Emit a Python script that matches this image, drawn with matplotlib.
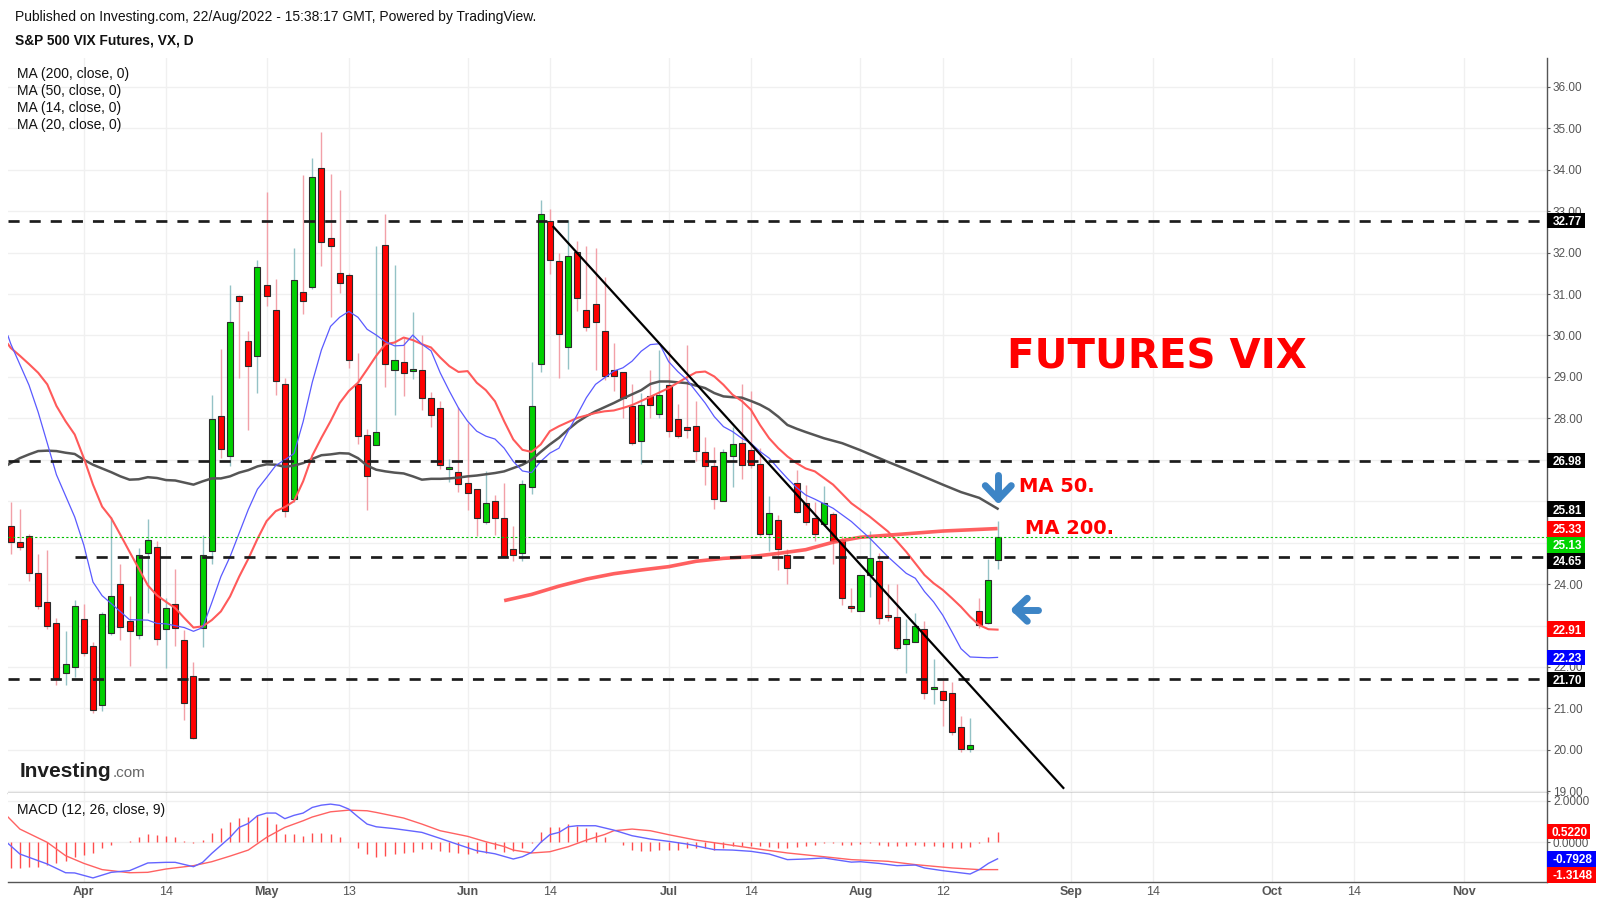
import matplotlib
matplotlib.use("Agg")
import matplotlib.pyplot as plt
import numpy as np
import pandas as pd
from matplotlib.patches import Rectangle

plt.rcParams["font.family"] = ["Liberation Sans", "DejaVu Sans"]
plt.rcParams["lines.scale_dashes"] = False

W, H, DPI = 1602, 906, 100

# ---- data -------------------------------------------------------------------
# trading days shown (CFE closed on Good Friday); x axis runs on bar index
days = pd.bdate_range("2022-03-22", "2022-11-30")
days = days[days != pd.Timestamp("2022-04-15")]

opens = [25.40, 25.02, 25.16, 24.27, 23.56, 23.05, 21.85, 22.01, 23.15, 22.50,
         21.09, 22.81, 24.00, 23.10, 22.76, 24.74, 24.89, 22.91, 23.51, 22.64,
         21.79, 22.95, 24.80, 28.06, 27.10, 30.95, 29.86, 29.50, 31.21, 30.61,
         28.82, 26.06, 31.05, 31.16, 34.04, 32.36, 31.51, 31.46, 28.82, 27.61,
         27.36, 32.19, 29.16, 29.35, 29.15, 29.16, 28.48, 28.26, 26.78, 26.71,
         26.45, 26.30, 25.50, 26.01, 25.60, 24.84, 24.75, 26.35, 29.30, 32.77,
         31.80, 29.72, 32.02, 30.61, 30.76, 30.10, 29.16, 29.11, 28.29, 27.46,
         28.54, 28.11, 28.81, 27.99, 27.79, 27.82, 27.19, 26.85, 26.00, 27.09,
         27.41, 27.24, 26.90, 25.21, 25.54, 24.70, 26.44, 25.96, 25.60, 25.46,
         25.70, 25.06, 23.47, 23.35, 24.22, 24.56, 23.25, 23.20, 22.55, 22.60,
         22.91, 21.46, 21.41, 21.36, 20.56, 20.01, 23.35, 23.05, 24.58]
highs = [25.97, 25.82, 25.21, 24.72, 24.82, 23.17, 22.87, 23.61, 23.52, 22.60,
         23.33, 25.61, 24.48, 23.72, 24.88, 25.56, 25.03, 23.67, 24.37, 22.89,
         22.12, 25.19, 28.56, 29.67, 31.22, 30.98, 30.12, 31.81, 33.47, 31.36,
         28.97, 32.12, 33.88, 34.29, 34.91, 33.90, 33.51, 31.50, 29.57, 27.75,
         32.15, 32.94, 31.70, 29.95, 30.57, 30.01, 28.63, 28.41, 27.03, 28.28,
         27.89, 26.30, 26.72, 26.15, 26.45, 25.41, 26.52, 29.36, 33.26, 33.06,
         31.99, 32.78, 32.27, 32.15, 32.12, 31.42, 29.82, 29.11, 28.82, 28.62,
         29.16, 29.65, 29.66, 28.34, 29.76, 28.41, 27.56, 27.31, 27.26, 27.78,
         28.83, 28.65, 27.28, 26.13, 25.67, 24.84, 26.75, 26.39, 25.97, 26.36,
         25.75, 25.15, 23.91, 24.22, 25.27, 24.74, 24.00, 24.00, 23.15, 23.30,
         23.11, 22.19, 21.68, 21.64, 20.81, 20.77, 23.67, 24.61, 25.53]
lows = [24.72, 24.82, 24.07, 23.41, 22.92, 21.57, 21.57, 21.75, 22.26, 20.90,
        20.93, 22.76, 22.65, 22.02, 22.68, 23.30, 22.52, 21.98, 22.50, 20.73,
        20.25, 22.49, 24.49, 27.04, 26.84, 28.97, 27.72, 28.61, 30.72, 28.57,
        25.62, 25.97, 30.53, 31.12, 31.67, 30.44, 31.02, 29.22, 27.38, 25.79,
        27.36, 28.76, 28.09, 28.53, 28.96, 28.19, 27.79, 26.78, 26.46, 26.22,
        25.79, 25.15, 25.45, 25.18, 24.68, 24.55, 24.55, 26.17, 29.13, 31.48,
        28.98, 29.18, 30.59, 30.10, 29.17, 28.93, 28.66, 28.01, 27.36, 26.90,
        28.00, 28.00, 27.56, 27.52, 27.52, 26.98, 26.39, 25.81, 26.00, 26.34,
        26.54, 26.81, 25.16, 24.80, 24.35, 24.01, 25.71, 25.42, 25.04, 25.39,
        24.48, 23.49, 23.32, 23.35, 23.68, 23.03, 23.12, 22.40, 21.86, 22.60,
        21.23, 21.11, 20.57, 20.36, 19.94, 19.94, 22.93, 23.03, 24.36]
closes = [25.02, 24.89, 24.27, 23.47, 23.00, 21.74, 22.08, 23.47, 22.33, 20.97,
          23.27, 23.71, 22.97, 22.86, 24.70, 25.06, 22.68, 23.42, 22.95, 21.14,
          20.29, 24.70, 27.99, 27.26, 30.32, 30.83, 29.26, 31.65, 30.95, 28.89,
          25.76, 31.33, 30.83, 33.82, 32.25, 32.16, 31.27, 29.40, 27.58, 26.61,
          27.68, 29.30, 29.42, 29.09, 29.17, 28.50, 28.07, 26.88, 26.83, 26.42,
          26.19, 25.60, 25.96, 25.60, 24.68, 24.70, 26.42, 28.29, 32.92, 31.83,
          30.03, 31.91, 30.90, 30.21, 30.32, 29.01, 29.01, 28.48, 27.41, 28.33,
          28.33, 28.57, 27.70, 27.58, 27.72, 27.20, 26.85, 26.05, 27.19, 27.38,
          26.87, 26.87, 25.21, 25.71, 24.84, 24.38, 25.74, 25.50, 25.21, 25.96,
          25.03, 23.67, 23.43, 24.22, 24.63, 23.18, 23.20, 22.45, 22.67, 22.98,
          21.36, 21.50, 21.19, 20.44, 20.01, 20.12, 23.01, 24.10, 25.13]

# moving averages, sampled along the bar index (first point = left chart edge)
ma14_x = [-0.3, 0, 2, 3, 4, 5, 7, 8, 9, 10, 11, 13, 15, 16, 17, 19, 20, 21, 22, 23, 24,
          25, 26, 27, 28, 29, 30, 31, 32, 33, 34, 35, 36, 37, 38, 39, 40, 41, 42, 43, 44,
          45, 46, 47, 48, 49, 50, 51, 52, 53, 54, 55, 56, 57, 58, 59, 60, 61, 62, 63, 64,
          65, 66, 67, 68, 69, 70, 71, 72, 73, 74, 75, 76, 77, 78, 79, 80, 81, 82, 83, 84,
          85, 86, 87, 88, 90, 92, 94, 96, 98, 99, 100, 101, 102, 103, 104, 105, 106, 107, 108]
ma14_y = [29.99, 29.80, 28.80, 28.15, 27.40, 26.64, 25.62, 24.94, 24.05, 23.72, 23.53,
          23.14, 23.13, 23.05, 23.04, 22.95, 22.86, 22.95, 23.55, 24.18, 24.66,
          25.23, 25.80, 26.29, 26.57, 26.86, 27.00, 27.15, 27.92, 28.87, 29.65,
          30.22, 30.44, 30.58, 30.44, 30.15, 30.01, 29.85, 29.75, 29.76, 30.01,
          29.79, 29.63, 29.10, 28.66, 28.25, 27.93, 27.69, 27.57, 27.50, 27.28,
          26.96, 26.73, 26.69, 26.96, 27.16, 27.28, 27.69, 28.09, 28.50, 28.82,
          28.98, 29.14, 29.22, 29.38, 29.62, 29.78, 29.80, 29.37, 29.13, 28.93,
          28.65, 28.37, 28.04, 27.80, 27.68, 27.52, 27.40, 27.20, 27.04, 26.79,
          26.55, 26.33, 26.15, 26.05, 25.83, 25.51, 25.11, 24.66, 24.26, 24.14,
          23.82, 23.57, 23.25, 22.85, 22.44, 22.24, 22.23, 22.22, 22.23]

ma20_x = [-0.3, 0, 1, 2, 3, 4, 5, 6, 7, 8, 9, 10, 11, 12, 13, 14, 15, 16, 17, 18, 19,
          20, 21, 22, 23, 24, 25, 26, 27, 28, 29, 30, 31, 32, 33, 34, 35, 36, 37, 38, 39,
          40, 41, 42, 43, 44, 45, 46, 47, 48, 49, 50, 51, 52, 53, 54, 55, 56, 57, 58, 59,
          60, 61, 62, 63, 64, 65, 66, 67, 68, 69, 70, 72, 74, 75, 76, 77, 78, 79, 80, 81,
          82, 83, 84, 85, 86, 87, 88, 90, 92, 94, 96, 97, 98, 99, 100, 101, 102, 103,
          104, 105, 106, 107, 108]
ma20_y = [29.79, 29.70, 29.51, 29.31, 29.10, 28.82, 28.30, 27.93, 27.61, 27.04, 26.40,
          25.87, 25.59, 25.19, 24.78, 24.38, 23.97, 23.73, 23.57, 23.42, 23.18,
          22.95, 22.98, 23.13, 23.34, 23.70, 24.18, 24.61, 25.09, 25.52, 25.76,
          25.86, 26.00, 26.48, 27.10, 27.53, 27.93, 28.37, 28.66, 28.86, 29.18,
          29.51, 29.79, 29.83, 29.95, 29.89, 29.79, 29.71, 29.47, 29.26, 29.12,
          29.14, 28.86, 28.68, 28.41, 27.93, 27.49, 27.24, 27.19, 27.37, 27.69,
          27.81, 27.91, 28.01, 28.07, 28.13, 28.17, 28.19, 28.25, 28.32, 28.42,
          28.52, 28.73, 28.99, 29.11, 29.13, 29.01, 28.81, 28.57, 28.42, 28.21,
          27.84, 27.52, 27.28, 27.08, 26.92, 26.79, 26.72, 26.40, 25.95, 25.63,
          25.27, 25.03, 24.78, 24.50, 24.22, 24.02, 23.86, 23.66, 23.45, 23.21,
          23.01, 22.91, 22.90]

ma50_x = [-0.3, 0, 1, 2, 3, 4, 5, 6, 7, 8, 9, 10, 11, 12, 13, 14, 15, 16, 17, 18, 19,
          20, 21, 22, 23, 24, 25, 26, 27, 28, 29, 30, 31, 32, 33, 34, 35, 36, 37, 38, 39,
          40, 41, 42, 43, 44, 45, 46, 47, 48, 49, 50, 51, 52, 53, 54, 55, 56, 57, 58, 59,
          60, 61, 62, 63, 64, 65, 66, 67, 68, 69, 70, 71, 72, 73, 74, 75, 76, 77, 78, 79,
          80, 81, 82, 83, 84, 85, 86, 87, 89, 91, 93, 96, 99, 102, 104, 106, 108]
ma50_y = [26.88, 26.92, 27.04, 27.13, 27.21, 27.22, 27.21, 27.17, 27.14, 27.00, 26.88,
          26.79, 26.70, 26.60, 26.52, 26.53, 26.58, 26.56, 26.51, 26.50, 26.45,
          26.40, 26.48, 26.55, 26.55, 26.60, 26.69, 26.75, 26.84, 26.89, 26.88,
          26.83, 26.86, 26.92, 27.02, 27.11, 27.13, 27.16, 27.15, 27.04, 26.86,
          26.76, 26.72, 26.69, 26.67, 26.60, 26.52, 26.54, 26.54, 26.55, 26.57,
          26.60, 26.62, 26.65, 26.68, 26.72, 26.80, 26.88, 27.00, 27.19, 27.37,
          27.53, 27.73, 27.91, 28.05, 28.17, 28.27, 28.37, 28.48, 28.58, 28.68,
          28.83, 28.89, 28.89, 28.87, 28.85, 28.79, 28.73, 28.61, 28.53, 28.51,
          28.50, 28.42, 28.33, 28.21, 28.04, 27.84, 27.75, 27.67, 27.52, 27.40,
          27.23, 26.95, 26.68, 26.40, 26.22, 26.08, 25.82]

ma200_x = [54, 57, 60, 63, 66, 69, 72, 75, 78, 81, 84, 87, 90, 93, 96, 99, 102, 105, 108]
ma200_y = [23.60, 23.75, 23.95, 24.12, 24.25, 24.34, 24.42, 24.55, 24.62, 24.66,
           24.74, 24.83, 25.01, 25.13, 25.18, 25.23, 25.28, 25.31, 25.34]

# MACD (12, 26, close, 9)
macd_x = [-0.3, 1, 4, 6, 7, 9, 11, 13, 15, 17, 18, 20, 21, 22, 24, 25, 26, 27, 28, 29,
          30, 31, 32, 33, 34, 35, 36, 37, 38, 39, 40, 42, 45, 47, 49, 51, 53, 55, 56, 57,
          58, 59, 60, 61, 62, 64, 66, 68, 70, 72, 74, 77, 79, 81, 83, 85, 87, 89, 92, 93,
          95, 97, 99, 100, 102, 105, 106, 107, 108]
macd_y = [-0.05, -0.56, -1.04, -1.46, -1.47, -1.71, -1.44, -1.36, -0.99, -0.96,
          -0.96, -1.17, -0.96, -0.53, 0.24, 0.72, 0.91, 1.28, 1.41, 1.41,
          1.14, 1.30, 1.41, 1.68, 1.79, 1.84, 1.78, 1.60, 1.23, 0.88,
          0.75, 0.66, 0.48, 0.19, -0.11, -0.40, -0.55, -0.80, -0.69, -0.48,
          0.00, 0.37, 0.48, 0.75, 0.80, 0.80, 0.59, 0.32, 0.16, 0.05,
          -0.08, -0.35, -0.37, -0.43, -0.56, -0.83, -0.80, -0.75, -0.95, -0.93,
          -1.01, -1.12, -1.09, -1.23, -1.36, -1.52, -1.31, -1.01, -0.79]
signal_x = [-0.3, 1, 4, 6, 8, 10, 13, 15, 17, 20, 22, 24, 26, 28, 30, 32, 33, 35, 37, 39,
            40, 43, 45, 47, 50, 52, 54, 55, 57, 59, 61, 63, 65, 66, 68, 70, 72, 75, 78, 81,
            85, 89, 92, 96, 99, 103, 106, 108]
signal_y = [1.22, 0.64, 0.00, -0.64, -1.01, -1.31, -1.46, -1.44, -1.28, -1.12,
            -0.93, -0.66, -0.37, 0.24, 0.72, 1.04, 1.22, 1.47, 1.55, 1.52,
            1.44, 1.17, 0.88, 0.56, 0.29, 0.03, -0.20, -0.37, -0.51, -0.45,
            -0.21, 0.11, 0.38, 0.56, 0.64, 0.56, 0.37, 0.11, -0.08, -0.27,
            -0.51, -0.69, -0.83, -0.91, -1.07, -1.23, -1.31, -1.31]
hist = [-1.25, -1.25, -1.17, -1.17, -1.07, -1.01, -0.91, -0.69, -0.59, -0.53,
        -0.27, -0.11, 0.03, 0.08, 0.27, 0.40, 0.37, 0.32, 0.27, 0.08,
        -0.05, 0.13, 0.46, 0.67, 0.99, 1.15, 1.23, 1.31, 1.23, 0.88,
        0.40, 0.40, 0.32, 0.46, 0.43, 0.38, 0.24, 0.03, -0.29, -0.56,
        -0.72, -0.67, -0.56, -0.53, -0.45, -0.34, -0.34, -0.40, -0.45, -0.51,
        -0.56, -0.51, -0.51, -0.34, -0.45, -0.42, -0.27, -0.05, 0.51, 0.75,
        0.75, 0.88, 0.80, 0.67, 0.50, 0.24, 0.03, -0.13, -0.35, -0.40,
        -0.40, -0.35, -0.35, -0.35, -0.29, -0.29, -0.27, -0.35, -0.27, -0.19,
        -0.19, -0.16, -0.19, -0.24, -0.29, -0.27, -0.24, -0.19, -0.13, -0.05,
        -0.02, -0.13, -0.13, -0.08, -0.05, -0.13, -0.16, -0.19, -0.16, -0.13,
        -0.19, -0.19, -0.21, -0.27, -0.29, -0.24, -0.02, 0.24, 0.52]

# drawings on the chart
levels = [32.77, 26.98, 24.65, 21.70]
level_from = [None, None, "2022-03-31", None]
trend_idx = [59.4, 115.2]
trend_price = [32.62, 19.08]

tick_dates = ["2022-04-01", "2022-04-14", "2022-05-02", "2022-05-13", "2022-06-01",
              "2022-06-14", "2022-07-01", "2022-07-14", "2022-08-01", "2022-08-12",
              "2022-09-01", "2022-09-14", "2022-10-03", "2022-10-14", "2022-11-01"]
tick_labels = ["Apr", "14", "May", "13", "Jun", "14", "Jul", "14", "Aug", "12",
               "Sep", "14", "Oct", "14", "Nov"]

legend_lines = ["MA (200, close, 0)", "MA (50, close, 0)", "MA (14, close, 0)",
                "MA (20, close, 0)"]

# ---- colours -----------------------------------------------------------------
UP, DOWN = "#00d000", "#ff0000"
UP_WICK, DOWN_WICK = "#94c2c6", "#f2a0a8"
GRID = "#f0f0f0"
AXIS = "#555555"
ARROW = "#3d85c6"


def day_index(d):
    return int(days.get_loc(pd.Timestamp(d)))


def px(x, y):
    """figure pixel (from top-left) -> figure fraction"""
    return x / W, 1 - y / H


fig = plt.figure(figsize=(W / DPI, H / DPI), dpi=DPI)
fig.patch.set_facecolor("white")

left_px, right_px = 8, 1546.7
top_px, split_px, bottom_px = 58.3, 793.3, 882.3
ax = fig.add_axes([left_px / W, 1 - split_px / H, (right_px - left_px) / W,
                   (split_px - top_px) / H])
axm = fig.add_axes([left_px / W, 1 - bottom_px / H, (right_px - left_px) / W,
                    (bottom_px - split_px) / H], sharex=ax)

XMIN, XMAX = -0.3, 168.1
YMIN, YMAX = 18.95, 36.69
MMIN, MMAX = -1.92, 2.36
ax.set_xlim(XMIN, XMAX)
ax.set_ylim(YMIN, YMAX)
axm.set_ylim(MMIN, MMAX)

# pixels per data unit, for drawing fixed-size shapes
sx = (right_px - left_px) / (XMAX - XMIN)
sy = (split_px - top_px) / (YMAX - YMIN)
sym = (bottom_px - split_px) / (MMAX - MMIN)

tick_pos = [day_index(d) for d in tick_dates]

for a in (ax, axm):
    a.set_facecolor("white")
    for side in ("top", "left"):
        a.spines[side].set_visible(False)
    for side in ("right", "bottom"):
        a.spines[side].set_color(AXIS)
        a.spines[side].set_linewidth(1.0)
    a.yaxis.tick_right()
    a.tick_params(axis="y", colors=AXIS, labelcolor=AXIS, labelsize=8.5,
                  length=2, width=0.8, pad=2.5)
    a.set_xticks(tick_pos)
    a.grid(True, color=GRID, linewidth=1.0, zorder=0)
    a.set_axisbelow(True)

ax.tick_params(axis="x", length=0, labelbottom=False)
axm.set_xticklabels(tick_labels)
axm.tick_params(axis="x", length=0, pad=3, labelsize=9, labelcolor=AXIS)
for lab, name in zip(axm.get_xticklabels(), tick_labels):
    if not name.isdigit():
        lab.set_fontweight("bold")

# ---- candles -----------------------------------------------------------------
o = np.array(opens)
h = np.array(highs)
l = np.array(lows)
c = np.array(closes)
idx = np.arange(len(c))
up = c >= o
body_lo = np.minimum(o, c)
body_h = np.maximum(np.abs(c - o), 0.05)

ax.vlines(idx[up], l[up], h[up], color=UP_WICK, linewidth=1.0, zorder=2)
ax.vlines(idx[~up], l[~up], h[~up], color=DOWN_WICK, linewidth=1.0, zorder=2)
ax.bar(idx[up], body_h[up], bottom=body_lo[up], width=0.66, color=UP,
       edgecolor="#2b2b2b", linewidth=0.8, zorder=3)
ax.bar(idx[~up], body_h[~up], bottom=body_lo[~up], width=0.66, color=DOWN,
       edgecolor="#2b2b2b", linewidth=0.8, zorder=3)

# ---- moving averages -----------------------------------------------------------
ax.plot(ma200_x, ma200_y, color="#ff4f4f", linewidth=2.6, alpha=0.9, zorder=4,
        solid_capstyle="butt")
ax.plot(ma50_x, ma50_y, color="#555555", linewidth=1.8, zorder=4)
ax.plot(ma20_x, ma20_y, color="#ff5a5a", linewidth=1.5, zorder=4)
ax.plot(ma14_x, ma14_y, color="#5a5aff", linewidth=0.9, zorder=4)

# ---- horizontal levels, last price, trend line ----------------------------------
for lev, start in zip(levels, level_from):
    x0 = XMIN if start is None else day_index(start)
    ax.hlines(lev, x0, XMAX, colors="#1c1c1c", linewidth=1.95,
              linestyles=[(0, (8.0, 7.2))], zorder=4.5)
ax.axhline(closes[-1], color="#00c000", linewidth=0.8,
           linestyle=(0, (1.6, 1.6)), zorder=4.5)
ax.plot(trend_idx, trend_price, color="black", linewidth=1.6, zorder=5)

# ---- annotations ----------------------------------------------------------------
bold = dict(family="DejaVu Sans", fontweight="bold", color="#ff0000")
ax.text(109.0, 29.21, "FUTURES VIX", fontsize=29, ha="left", va="baseline",
        zorder=6, **bold)
ax.text(110.3, 26.22, "MA 50.", fontsize=14, ha="left", va="baseline",
        zorder=6, **bold)
ax.text(111.0, 25.21, "MA 200.", fontsize=14, ha="left", va="baseline",
        zorder=6, **bold)


def arrow(tip, pts_px):
    tx, ty = tip
    xs = [tx + dx / sx for dx, dy in pts_px]
    ys = [ty + dy / sy for dx, dy in pts_px]
    ax.plot(xs, ys, color=ARROW, linewidth=5.0, solid_capstyle="round",
            solid_joinstyle="round", zorder=6)


down_tip = (108.08, 26.05)
left_tip = (109.94, 23.38)
arrow(down_tip, [(0, 24), (0, 0)])
arrow(down_tip, [(-13, 13.5), (0, 0), (13, 13.5)])
arrow(left_tip, [(23, 0), (0, 0)])
arrow(left_tip, [(12, 11.5), (0, 0), (12, -11.5)])

# ---- MACD ---------------------------------------------------------------------
axm.vlines(idx, 0, hist, color="#ff4d4d", linewidth=1.0, zorder=2)
axm.plot(signal_x, signal_y, color="#ff6262", linewidth=1.0, zorder=3)
axm.plot(macd_x, macd_y, color="#6464ff", linewidth=1.0, zorder=3)


# ---- price tags on the right axis -------------------------------------------------
def place_tags(a, tags, scale, fs=8.5, height_px=15.5):
    gap = 16 / scale
    hh = height_px / scale
    prev = None
    spots = []
    for value, color, text in sorted(tags, key=lambda t: -t[0]):
        y = value if prev is None else min(value, prev - gap)
        prev = y
        spots.append(y)
        wpx = 11 + 5.4 * len(text)
        wf = wpx / (right_px - left_px)
        a.add_patch(Rectangle((1.0, y - hh / 2), wf, hh, transform=a.get_yaxis_transform(),
                              facecolor=color, edgecolor="none", clip_on=False, zorder=10))
        a.text(1.0 + wf / 2 + 1.2 / (right_px - left_px), y, text,
               transform=a.get_yaxis_transform(), ha="center", va="center_baseline",
               color="white", fontsize=fs, fontweight="bold", zorder=11, clip_on=False)
    return spots


def axis_ticks(a, values, fmt, spots, scale):
    # a tick label sitting under a tag is hidden, as on the original
    labels = []
    for v in values:
        covered = any(abs(v - s) * scale < 9 for s in spots)
        labels.append("" if covered else fmt.format(v))
    a.set_yticks(values)
    a.set_yticklabels(labels)


main_tags = [(32.77, "#000000"), (26.98, "#000000"), (24.65, "#000000"),
             (21.70, "#000000"), (ma50_y[-1] - 0.01, "#000000"), (25.33, "#ff0000"),
             (closes[-1], "#00d400"), (22.91, "#ff0000"), (22.23, "#0000ff")]
spots = place_tags(ax, [(v, col, f"{v:.2f}") for v, col in main_tags], sy)
axis_ticks(ax, list(range(19, 37)), "{:.2f}", spots, sy)

macd_tags = [(0.5220, "#ff0000"), (-0.7928, "#0000ff"), (-1.3148, "#ff0000")]
mspots = place_tags(axm, [(v, col, f"{v:.4f}") for v, col in macd_tags], sym)
axis_ticks(axm, [0, 2], "{:.4f}", mspots, sym)

# ---- header, legend, logo -----------------------------------------------------------
fig.text(*px(15.3, 17.4), "Published on Investing.com, 22/Aug/2022 - 15:38:17 GMT, "
         "Powered by TradingView.", fontsize=10, va="center", color="#111111")
fig.text(*px(15.3, 40.9), "S&P 500 VIX Futures, VX, D", fontsize=9.9,
         fontweight="bold", va="center", color="#111111")
for i, name in enumerate(legend_lines):
    fig.text(*px(17.4, 73.6 + 17.0 * i), name, fontsize=10, va="center",
             color="#111111")
fig.text(*px(17.4, 810), "MACD (12, 26, close, 9)", fontsize=10, va="center",
         color="#111111")

logo = fig.text(*px(20, 777), "Investing", fontsize=15, fontweight="bold",
                va="baseline", color="#1e1e1e")
fig.canvas.draw()
bb = logo.get_window_extent()
fig.text((bb.x1 + 0.5) / W, 1 - 777 / H, ".com", fontsize=11, va="baseline",
         color="#666666")

fig.savefig("out.png", dpi=DPI, facecolor="white")
